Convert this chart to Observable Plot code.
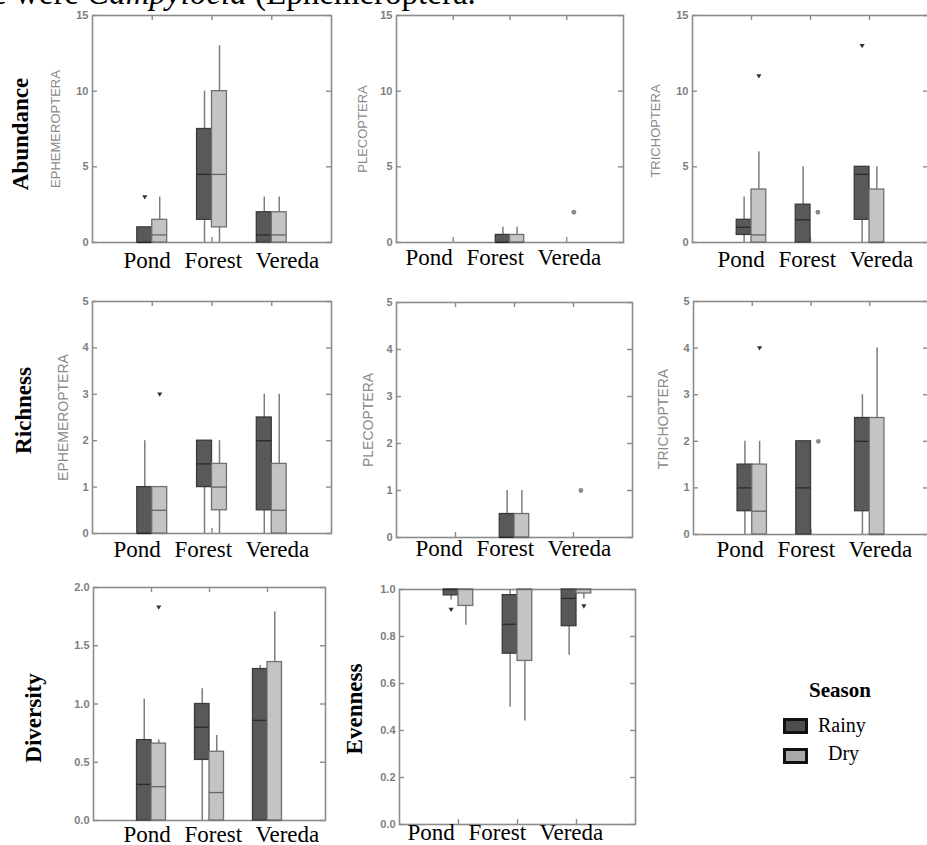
<!DOCTYPE html>
<html><head><meta charset="utf-8">
<script src="https://cdn.jsdelivr.net/npm/d3@7"></script>
<script src="https://cdn.jsdelivr.net/npm/@observablehq/plot@0.6"></script>
<style>
html,body{margin:0;padding:0;background:#fff;}
#page{position:relative;width:927px;height:845px;overflow:hidden;background:#fff;}
#page svg{position:absolute;}
.caption{position:absolute;left:-8px;top:-23px;font-family:"Liberation Serif";font-size:33px;line-height:33px;white-space:nowrap;color:#000;}
.leg{position:absolute;font-family:"Liberation Serif";color:#000;white-space:nowrap;}
.sw{position:absolute;box-sizing:border-box;border:3px solid #111;}
</style></head><body><div id="page"><div class="caption">e were <i>Campylocia</i> (Ephemeroptera.</div></div>
<script>
// ---------- data ----------
const categories = ["Pond", "Forest", "Vereda"];
const seasons = ["Rainy", "Dry"];
// each row: [lower whisker, Q1, median, Q3, upper whisker]
// row order: Pond-Rainy, Pond-Dry, Forest-Rainy, Forest-Dry, Vereda-Rainy, Vereda-Dry
const abundanceEphemeroptera = [[0,0,0,1,1],[0,0,0.5,1.5,3],[0,1.5,4.5,7.5,10],[0,1,4.5,10,13],[0,0,0.5,2,3],[0,0,0.5,2,3]];
const abundancePlecoptera    = [[0,0,0,0,0],[0,0,0,0,0],[0,0,0,0.5,1],[0,0,0,0.5,1],[0,0,0,0,0],[0,0,0,0,0]];
const abundanceTrichoptera   = [[0,0.5,1,1.5,3],[0,0,0.5,3.5,6],[0,0,1.5,2.5,5],[0,0,0,0,0],[0,1.5,4.5,5,5],[0,0,0,3.5,5]];
const richnessEphemeroptera  = [[0,0,0,1,2],[0,0,0.5,1,1],[0,1,1.5,2,2],[0,0.5,1,1.5,2],[0,0.5,2,2.5,3],[0,0,0.5,1.5,3]];
const richnessPlecoptera     = [[0,0,0,0,0],[0,0,0,0,0],[0,0,0,0.5,1],[0,0,0,0.5,1],[0,0,0,0,0],[0,0,0,0,0]];
const richnessTrichoptera    = [[0,0.5,1,1.5,2],[0,0,0.5,1.5,2],[0,0,1,2,2],[0,0,0,0,0],[0,0.5,2,2.5,3],[0,0,0,2.5,4]];
const diversity              = [[0,0,0.31,0.69,1.04],[0,0,0.29,0.66,0.69],[0,0.52,0.8,1.0,1.13],[0,0,0.24,0.59,0.73],[0,0,0.86,1.30,1.33],[0,0,0,1.36,1.79]];
const evenness               = [[0.955,0.975,1,1,1],[0.848,0.93,1,1,1],[0.5,0.727,0.852,0.976,1],[0.44,0.696,1,1,1],[0.72,0.844,0.962,1,1],[0.96,0.983,1,1,1]];
// outliers: [category, season, value, kind]  kind: "outside" (triangle) | "far" (circle)
const abundanceEphemeropteraOut = [["Pond","Rainy",3,"outside"]];
const abundancePlecopteraOut    = [["Vereda","Dry",2,"far"]];
const abundanceTrichopteraOut   = [["Pond","Dry",11,"outside"],["Forest","Dry",2,"far"],["Vereda","Rainy",13,"outside"]];
const richnessEphemeropteraOut  = [["Pond","Dry",3,"outside"]];
const richnessPlecopteraOut     = [["Vereda","Dry",1,"far"]];
const richnessTrichopteraOut    = [["Pond","Dry",4,"outside"],["Forest","Dry",2,"far"]];
const diversityOut              = [["Pond","Dry",1.83,"outside"]];
const evennessOut               = [["Pond","Rainy",0.915,"outside"],["Vereda","Dry",0.929,"outside"]];
const ticks15 = [0,5,10,15];
const ticks5 = [0,1,2,3,4,5];
const ticks2 = [0,0.5,1,1.5,2];
const ticks1 = [0,0.2,0.4,0.6,0.8,1];

// ---------- styles ----------
const boxStyle = {
  Rainy: {fill: "#595959", stroke: "#3a3a3a", median: "#2a2a2a"},
  Dry:   {fill: "#c4c4c4", stroke: "#707070", median: "#666666"}
};
const legendFill = {Rainy: "#4e4e4e", Dry: "#a9a9a9"};
const frameColor = "#8c8c8c";
const triDown = {draw(ctx, size) { const k = Math.sqrt(size / Math.PI); ctx.moveTo(-k, -k*0.7); ctx.lineTo(k, -k*0.7); ctx.lineTo(0, k*0.95); ctx.closePath(); }};

const page = document.getElementById("page");

function panel(cfg) {
  const mL = 100, mR = 4, mT = 8, mB = 38;
  const fw = cfg.right - cfg.left, fh = cfg.bottom - cfg.top;
  const rows = cfg.stats.map((s, i) => {
    const season = seasons[i % 2];
    const p = Math.floor(i / 2) + 1;
    const x1 = season === "Rainy" ? p - 0.25 : p;
    return {season, x1, x2: x1 + 0.25, xc: x1 + 0.125, lo: s[0], q1: s[1], med: s[2], q3: s[3], hi: s[4]};
  });
  const outs = cfg.outliers.map(([cat, season, v, kind]) => {
    const p = categories.indexOf(cat) + 1;
    return {xc: season === "Rainy" ? p - 0.125 : p + 0.125, v, kind};
  });
  const catPos = categories.map((c, i) => i + 1);
  const marks = [
    Plot.frame({stroke: frameColor, strokeWidth: 1.6}),
    Plot.tickY(cfg.yTicks, {y: d => d, stroke: frameColor, strokeWidth: 1.4, insetRight: fw - 5}),
    Plot.tickY(cfg.yTicks, {y: d => d, stroke: frameColor, strokeWidth: 1.4, insetLeft: fw - 5}),
    Plot.tickX(catPos, {x: d => d, stroke: frameColor, strokeWidth: 1.4, insetBottom: fh - 5}),
    Plot.tickX(catPos, {x: d => d, stroke: frameColor, strokeWidth: 1.4, insetTop: fh - 5}),
    Plot.axisY(cfg.yTicks, {tickSize: 0, tickPadding: 4, tickFormat: cfg.fmt, fontSize: 11, fontWeight: "bold", color: "#7e7e7e", fill: "#7e7e7e", fontFamily: "Liberation Sans", label: null}),
    Plot.ruleX(rows.filter(d => d.q1 > d.lo), {x: "xc", y1: "lo", y2: "q1", stroke: "#7d7d7d", strokeWidth: 1.5}),
    Plot.ruleX(rows.filter(d => d.hi > d.q3), {x: "xc", y1: "q3", y2: "hi", stroke: "#7d7d7d", strokeWidth: 1.5})
  ];
  for (const s of seasons) {
    const b = rows.filter(d => d.season === s && d.q3 > d.q1);
    marks.push(Plot.rect(b, {x1: "x1", x2: "x2", y1: "q1", y2: "q3", fill: boxStyle[s].fill, stroke: boxStyle[s].stroke, strokeWidth: 1.3}));
    marks.push(Plot.ruleY(b, {y: "med", x1: "x1", x2: "x2", stroke: boxStyle[s].median, strokeWidth: 1.3}));
  }
  marks.push(Plot.dot(outs.filter(d => d.kind === "outside"), {x: "xc", y: "v", r: 2.6, symbol: triDown, fill: "#333", stroke: null}));
  marks.push(Plot.dot(outs.filter(d => d.kind === "far"), {x: "xc", y: "v", r: 2.4, fill: "#8a8a8a", stroke: null}));
  marks.push(Plot.text([categories.join(" ")], {text: d => d, frameAnchor: "bottom-left", textAnchor: "start", lineAnchor: "middle", dx: cfg.labDx, dy: cfg.labBase - 7.4, fontSize: 23, fontFamily: "Liberation Serif", fill: "#000"}));
  if (cfg.taxon) marks.push(Plot.text([cfg.taxon], {text: d => d, frameAnchor: "left", rotate: -90, textAnchor: "middle", lineAnchor: "middle", dx: cfg.taxonDx, dy: cfg.taxonDy, fontSize: cfg.taxonSize, fontFamily: "Liberation Sans", fill: "#8a8a8a"}));
  if (cfg.metric) marks.push(Plot.text([cfg.metric], {text: d => d, frameAnchor: "left", rotate: -90, textAnchor: "middle", lineAnchor: "middle", dx: cfg.metricDx, dy: cfg.metricDy, fontSize: 23, fontWeight: "bold", fontFamily: "Liberation Serif", fill: "#000"}));
  const svg = Plot.plot({
    width: fw + mL + mR, height: fh + mT + mB,
    marginLeft: mL, marginRight: mR, marginTop: mT, marginBottom: mB,
    x: {domain: [0, 4], axis: null},
    y: {domain: cfg.yDomain},
    style: {background: "transparent", overflow: "visible", maxWidth: "none", wordSpacing: "8px", fontFamily: "Liberation Sans"},
    marks
  });
  svg.style.left = (cfg.left - mL) + "px";
  svg.style.top = (cfg.top - mT) + "px";
  page.appendChild(svg);
}

const intFmt = d => String(d);
const dec1 = d => d.toFixed(1);
panel({left: 92, top: 15, right: 331, bottom: 242, yDomain: [0,15], yTicks: ticks15, fmt: intFmt, stats: abundanceEphemeroptera, outliers: abundanceEphemeropteraOut, taxon: "EPHEMEROPTERA", taxonSize: 13, taxonDx: -37, taxonDy: 0, metric: "Abundance", metricDx: -72, metricDy: 5, labDx: 31, labBase: 26});
panel({left: 396, top: 15, right: 623, bottom: 242, yDomain: [0,15], yTicks: ticks15, fmt: intFmt, stats: abundancePlecoptera, outliers: abundancePlecopteraOut, taxon: "PLECOPTERA", taxonSize: 13, taxonDx: -34, taxonDy: 0, labDx: 9, labBase: 23});
panel({left: 692, top: 15, right: 928, bottom: 242, yDomain: [0,15], yTicks: ticks15, fmt: intFmt, stats: abundanceTrichoptera, outliers: abundanceTrichopteraOut, taxon: "TRICHOPTERA", taxonSize: 13, taxonDx: -37, taxonDy: 2, labDx: 25, labBase: 25});
panel({left: 92, top: 301, right: 331, bottom: 533, yDomain: [0,5], yTicks: ticks5, fmt: intFmt, stats: richnessEphemeroptera, outliers: richnessEphemeropteraOut, taxon: "EPHEMEROPTERA", taxonSize: 14, taxonDx: -29, taxonDy: 0, metric: "Richness", metricDx: -69, metricDy: -7, labDx: 21, labBase: 24});
panel({left: 396, top: 302, right: 632, bottom: 537, yDomain: [0,5], yTicks: ticks5, fmt: intFmt, stats: richnessPlecoptera, outliers: richnessPlecopteraOut, taxon: "PLECOPTERA", taxonSize: 14, taxonDx: -28, taxonDy: 0, labDx: 19, labBase: 19});
panel({left: 693, top: 301, right: 928, bottom: 534, yDomain: [0,5], yTicks: ticks5, fmt: intFmt, stats: richnessTrichoptera, outliers: richnessTrichopteraOut, taxon: "TRICHOPTERA", taxonSize: 14, taxonDx: -30, taxonDy: 1, labDx: 23, labBase: 23});
panel({left: 93, top: 587, right: 325, bottom: 820, yDomain: [0,2], yTicks: ticks2, fmt: dec1, stats: diversity, outliers: diversityOut, metric: "Diversity", metricDx: -60, metricDy: 14, labDx: 30, labBase: 22});
panel({left: 399, top: 589, right: 635, bottom: 824, yDomain: [0,1], yTicks: ticks1, fmt: dec1, stats: evenness, outliers: evennessOut, metric: "Evenness", metricDx: -45, metricDy: 2, labDx: 8, labBase: 16});

// ---------- legend ----------
function el(cls, css, txt) { const e = document.createElement("div"); e.className = cls; Object.assign(e.style, css); if (txt) e.textContent = txt; page.appendChild(e); return e; }
el("leg", {left: "790px", top: "678px", width: "100px", textAlign: "center", fontSize: "21px", fontWeight: "bold", lineHeight: "24px"}, "Season");
const legRows = [{top: 718, textLeft: 818, textTop: 714}, {top: 748, textLeft: 828, textTop: 742}];
seasons.forEach((s, i) => {
  el("sw", {left: "783px", top: legRows[i].top + "px", width: "25px", height: "16px", background: legendFill[s]});
  el("leg", {left: legRows[i].textLeft + "px", top: legRows[i].textTop + "px", fontSize: "20px", lineHeight: "22px"}, s);
});
</script></body></html>
